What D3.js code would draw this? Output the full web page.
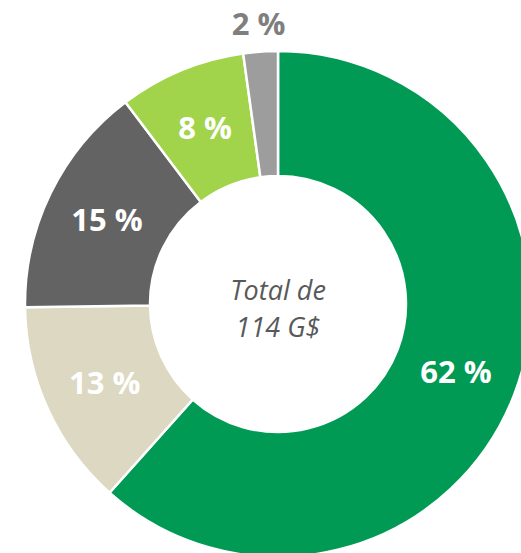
<!DOCTYPE html>
<html>
<head>
<meta charset="utf-8">
<script src="https://cdn.jsdelivr.net/npm/d3@7"></script>
<style>
  body { margin: 0; background: #fff; }
  svg { display: block; }
</style>
</head>
<body>
<svg id="chart" width="521" height="553"></svg>
<script>
var width = 521;
var height = 553;

var cx = 278;
var cy = 304;
var outerRadius = 253;
var innerRadius = 128;

// parts of the total, in order from 12 o'clock, clockwise
var categories = ["a", "b", "c", "d", "e"];
var values = [61.6, 13.2, 14.9, 8.1, 2.2];
var colors = ["#009a55", "#dcd8c2", "#636363", "#a1d44b", "#9d9d9d"];
var labelColors = ["#fff", "#fff", "#fff", "#fff", "#7f7f7f"];
var centerLines = ["Total de", "114 G$"];

var svg = d3.select("#chart");

var pie = d3.pie()
  .sort(null)
  .value(function(d) { return d; });

var arc = d3.arc()
  .innerRadius(innerRadius)
  .outerRadius(outerRadius);

var labelArc = d3.arc()
  .innerRadius(innerRadius)
  .outerRadius(outerRadius);

var outsideArc = d3.arc()
  .innerRadius(281)
  .outerRadius(281);

var arcs = pie(values);

var g = svg.append("g")
  .attr("transform", "translate(" + cx + "," + cy + ")");

g.selectAll("path")
  .data(arcs)
  .enter()
  .append("path")
  .attr("d", arc)
  .style("fill", function(d, i) { return colors[i]; })
  .style("stroke", "white")
  .style("stroke-width", "2.5");

// small slices get their label outside the ring
g.selectAll("text.pct")
  .data(arcs)
  .enter()
  .append("text")
  .attr("class", "pct")
  .attr("transform", function(d) {
    var p = d.data < 5 ? outsideArc.centroid(d) : labelArc.centroid(d);
    return "translate(" + p[0] + "," + p[1] + ")";
  })
  .attr("text-anchor", "middle")
  .attr("dy", "0.36em")
  .style("font-family", "'Open Sans', sans-serif")
  .style("font-weight", "bold")
  .style("font-size", "31px")
  .style("fill", function(d, i) { return labelColors[i]; })
  .text(function(d) { return Math.round(d.data) + " %"; });

g.selectAll("text.center")
  .data(centerLines)
  .enter()
  .append("text")
  .attr("class", "center")
  .attr("x", 0)
  .attr("y", function(d, i) { return -4 + i * 37; })
  .attr("text-anchor", "middle")
  .style("font-family", "'Open Sans', sans-serif")
  .style("font-style", "italic")
  .style("font-size", "27px")
  .style("fill", "#595959")
  .text(function(d) { return d; });
</script>
</body>
</html>
